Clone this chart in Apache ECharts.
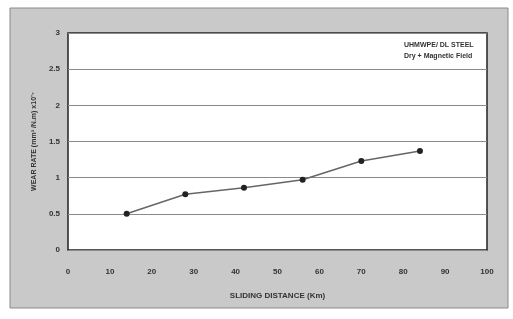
<!DOCTYPE html>
<html><head><meta charset="utf-8">
<script src="https://cdn.jsdelivr.net/npm/echarts@6/dist/echarts.min.js"></script>
<style>html,body{margin:0;padding:0;background:#fff}#c{width:513px;height:319px}</style>
</head><body><div id="c"></div>
<script>
var xValues = [14, 28, 42, 56, 70, 84];
var wearRate = [0.5, 0.77, 0.86, 0.97, 1.23, 1.37];
var legendLines = ['UHMWPE/ DL STEEL', 'Dry + Magnetic Field'];
var xTitle = 'SLIDING DISTANCE (Km)';
var yTitle = 'WEAR RATE (mm\u00B3 /N.m) x10\u207B\u2077';

var chart = echarts.init(document.getElementById('c'));
chart.setOption({
  backgroundColor: '#fff',
  animation: false,
  graphic: [
    {type: 'rect', shape: {x: 10, y: 8, width: 498, height: 300}, style: {fill: '#c9c9c9', stroke: '#8a8a8a', lineWidth: 1}, z: -10},
    {type: 'text', left: 404, top: 40, style: {text: legendLines.join('\n'), font: 'bold 7px "Liberation Sans"', fill: '#333', lineHeight: 11, align: 'left'}, z: 10}
  ],
  grid: {left: 68, right: 26, top: 33, bottom: 69, show: true, backgroundColor: '#fff', borderColor: '#222', borderWidth: 1.5},
  xAxis: {
    type: 'value', min: 0, max: 100, interval: 10,
    name: xTitle, nameLocation: 'middle', nameGap: 42,
    nameTextStyle: {fontSize: 8, fontWeight: 'bold', color: '#333', fontFamily: 'Liberation Sans'},
    axisLine: {show: false}, axisTick: {show: false},
    axisLabel: {margin: 18, fontSize: 8, fontWeight: 'bold', color: '#333', fontFamily: 'Liberation Sans'},
    splitLine: {show: false}
  },
  yAxis: {
    type: 'value', min: 0, max: 3, interval: 0.5,
    name: yTitle, nameLocation: 'middle', nameGap: 24,
    nameTextStyle: {fontSize: 7, fontWeight: 'bold', color: '#333', fontFamily: 'Liberation Sans'},
    axisLine: {show: false}, axisTick: {show: false},
    axisLabel: {margin: 8, fontSize: 8, fontWeight: 'bold', color: '#333', fontFamily: 'Liberation Sans'},
    splitLine: {show: true, lineStyle: {color: '#8a8a8a', width: 1}}
  },
  series: [{
    type: 'line',
    data: xValues.map(function (x, i) { return [x, wearRate[i]]; }),
    symbol: 'circle', symbolSize: 6,
    itemStyle: {color: '#222'},
    lineStyle: {color: '#666', width: 1.5}
  }]
});
</script></body></html>
